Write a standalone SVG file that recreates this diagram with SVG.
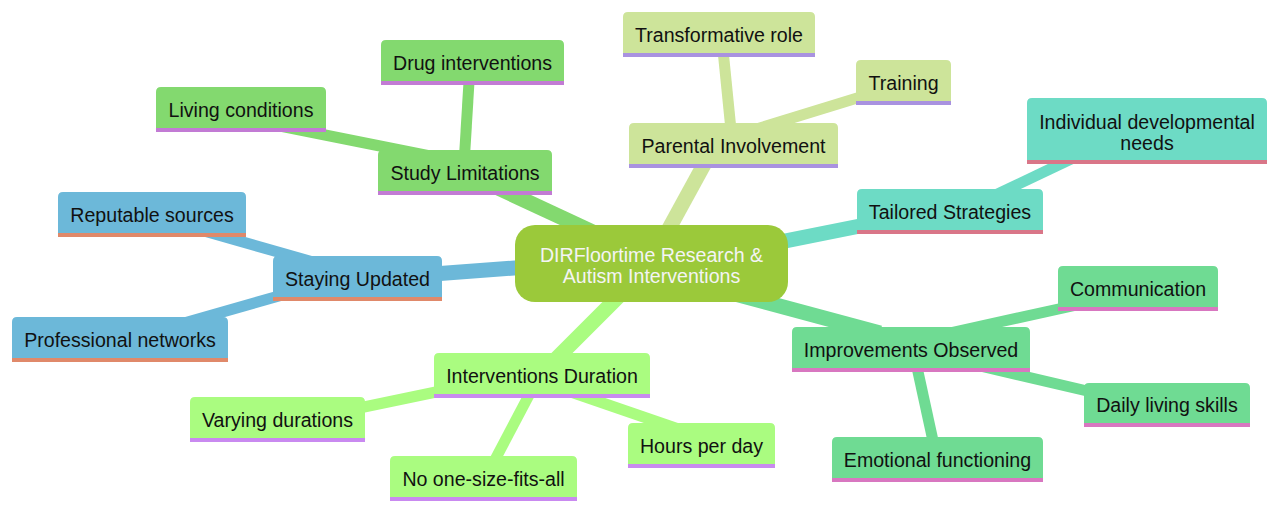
<svg xmlns="http://www.w3.org/2000/svg" width="1280" height="513" viewBox="0 0 1280 513">
<style>
text{font-family:"Liberation Sans",Arial,sans-serif;font-size:19.6px;fill:#111;text-anchor:middle}
.root text{fill:#f4f4f4}
.e1{stroke-width:15;fill:none;stroke-linecap:butt}
.e2{stroke-width:11;fill:none;stroke-linecap:butt}
.s1 .b{fill:#83d96f}.s1 .u{fill:#c27bd4}
.s2 .b{fill:#cde49a}.s2 .u{fill:#a992e0}
.s3 .b{fill:#6ddbc5}.s3 .u{fill:#d97688}
.s4 .b{fill:#6fdb93}.s4 .u{fill:#d877c0}
.s5 .b{fill:#aafc80}.s5 .u{fill:#c98af0}
.s6 .b{fill:#6cb8d9}.s6 .u{fill:#e0896a}
</style>
<rect width="1280" height="513" fill="#fff"/>
<g id="connectors">
<line class="e1" x1="470" y1="175" x2="610" y2="240" stroke="#83d96f"/>
<line class="e1" x1="660" y1="245" x2="712" y2="150" stroke="#cde49a"/>
<line class="e1" x1="760" y1="246" x2="880" y2="222" stroke="#6ddbc5"/>
<line class="e1" x1="720" y1="290" x2="880" y2="333" stroke="#6fdb93"/>
<line class="e1" x1="630" y1="285" x2="545" y2="370" stroke="#aafc80"/>
<line class="e1" x1="420" y1="275" x2="540" y2="266" stroke="#6cb8d9"/>
<line class="e2" x1="470" y1="65" x2="464" y2="165" stroke="#83d96f"/>
<line class="e2" x1="260" y1="122" x2="440" y2="158" stroke="#83d96f"/>
<line class="e2" x1="722" y1="40" x2="732" y2="140" stroke="#cde49a"/>
<line class="e2" x1="880" y1="91" x2="750" y2="131" stroke="#cde49a"/>
<line class="e2" x1="1090" y1="150" x2="985" y2="200" stroke="#6ddbc5"/>
<line class="e2" x1="1095" y1="301" x2="945" y2="334" stroke="#6fdb93"/>
<line class="e2" x1="980" y1="366" x2="1100" y2="394" stroke="#6fdb93"/>
<line class="e2" x1="915" y1="358" x2="935" y2="450" stroke="#6fdb93"/>
<line class="e2" x1="340" y1="412" x2="460" y2="387" stroke="#aafc80"/>
<line class="e2" x1="537" y1="380" x2="488" y2="473" stroke="#aafc80"/>
<line class="e2" x1="565" y1="390" x2="690" y2="433" stroke="#aafc80"/>
<line class="e2" x1="190" y1="227" x2="320" y2="264" stroke="#6cb8d9"/>
<line class="e2" x1="170" y1="327" x2="300" y2="290" stroke="#6cb8d9"/>
</g>
<g id="root" class="root">
<rect x="515" y="225" width="273" height="77" rx="20" fill="#9bc93a"/>
<text x="651.5" y="262">DIRFloortime Research &amp;</text>
<text x="651.5" y="283">Autism Interventions</text>
</g>
<g id="study" class="s1"><path class="b" d="M378,195V155Q378,150 383,150H547Q552,150 552,155V195Z"/><rect class="u" x="378" y="191" width="174" height="4"/><text x="465" y="179.5">Study Limitations</text></g>
<g id="drug" class="s1"><path class="b" d="M381,85V45Q381,40 386,40H559Q564,40 564,45V85Z"/><rect class="u" x="381" y="81" width="183" height="4"/><text x="472.5" y="69.5">Drug interventions</text></g>
<g id="living" class="s1"><path class="b" d="M156,132V92Q156,87 161,87H321Q326,87 326,92V132Z"/><rect class="u" x="156" y="128" width="170" height="4"/><text x="241" y="116.5">Living conditions</text></g>
<g id="parental" class="s2"><path class="b" d="M629,168V128Q629,123 634,123H833Q838,123 838,128V168Z"/><rect class="u" x="629" y="164" width="209" height="4"/><text x="733.5" y="152.5">Parental Involvement</text></g>
<g id="transformative" class="s2"><path class="b" d="M623,57V17Q623,12 628,12H810Q815,12 815,17V57Z"/><rect class="u" x="623" y="53" width="192" height="4"/><text x="719" y="41.5">Transformative role</text></g>
<g id="training" class="s2"><path class="b" d="M856,105V65Q856,60 861,60H946Q951,60 951,65V105Z"/><rect class="u" x="856" y="101" width="95" height="4"/><text x="903.5" y="89.5">Training</text></g>
<g id="tailored" class="s3"><path class="b" d="M857,234V194Q857,189 862,189H1038Q1043,189 1043,194V234Z"/><rect class="u" x="857" y="230" width="186" height="4"/><text x="950" y="218.5">Tailored Strategies</text></g>
<g id="individual" class="s3"><path class="b" d="M1027,164V103Q1027,98 1032,98H1262Q1267,98 1267,103V164Z"/><rect class="u" x="1027" y="160" width="240" height="4"/><text x="1147" y="129">Individual developmental</text><text x="1147" y="150">needs</text></g>
<g id="improvements" class="s4"><path class="b" d="M792,372V332Q792,327 797,327H1025Q1030,327 1030,332V372Z"/><rect class="u" x="792" y="368" width="238" height="4"/><text x="911" y="356.5">Improvements Observed</text></g>
<g id="communication" class="s4"><path class="b" d="M1058,311V271Q1058,266 1063,266H1213Q1218,266 1218,271V311Z"/><rect class="u" x="1058" y="307" width="160" height="4"/><text x="1138" y="295.5">Communication</text></g>
<g id="daily" class="s4"><path class="b" d="M1084,427V388Q1084,383 1089,383H1245Q1250,383 1250,388V427Z"/><rect class="u" x="1084" y="423" width="166" height="4"/><text x="1167" y="412">Daily living skills</text></g>
<g id="emotional" class="s4"><path class="b" d="M832,482V442Q832,437 837,437H1038Q1043,437 1043,442V482Z"/><rect class="u" x="832" y="478" width="211" height="4"/><text x="937.5" y="466.5">Emotional functioning</text></g>
<g id="interventions" class="s5"><path class="b" d="M434,398V358Q434,353 439,353H645Q650,353 650,358V398Z"/><rect class="u" x="434" y="394" width="216" height="4"/><text x="542" y="382.5">Interventions Duration</text></g>
<g id="varying" class="s5"><path class="b" d="M190,442V402Q190,397 195,397H360Q365,397 365,402V442Z"/><rect class="u" x="190" y="438" width="175" height="4"/><text x="277.5" y="426.5">Varying durations</text></g>
<g id="noone" class="s5"><path class="b" d="M390,501V461Q390,456 395,456H572Q577,456 577,461V501Z"/><rect class="u" x="390" y="497" width="187" height="4"/><text x="483.5" y="485.5">No one-size-fits-all</text></g>
<g id="hours" class="s5"><path class="b" d="M628,468V428Q628,423 633,423H770Q775,423 775,428V468Z"/><rect class="u" x="628" y="464" width="147" height="4"/><text x="701.5" y="452.5">Hours per day</text></g>
<g id="staying" class="s6"><path class="b" d="M273,301V261Q273,256 278,256H437Q442,256 442,261V301Z"/><rect class="u" x="273" y="297" width="169" height="4"/><text x="357.5" y="285.5">Staying Updated</text></g>
<g id="reputable" class="s6"><path class="b" d="M58,237V197Q58,192 63,192H241Q246,192 246,197V237Z"/><rect class="u" x="58" y="233" width="188" height="4"/><text x="152" y="221.5">Reputable sources</text></g>
<g id="professional" class="s6"><path class="b" d="M12,362V322Q12,317 17,317H223Q228,317 228,322V362Z"/><rect class="u" x="12" y="358" width="216" height="4"/><text x="120" y="346.5">Professional networks</text></g>
</svg>
